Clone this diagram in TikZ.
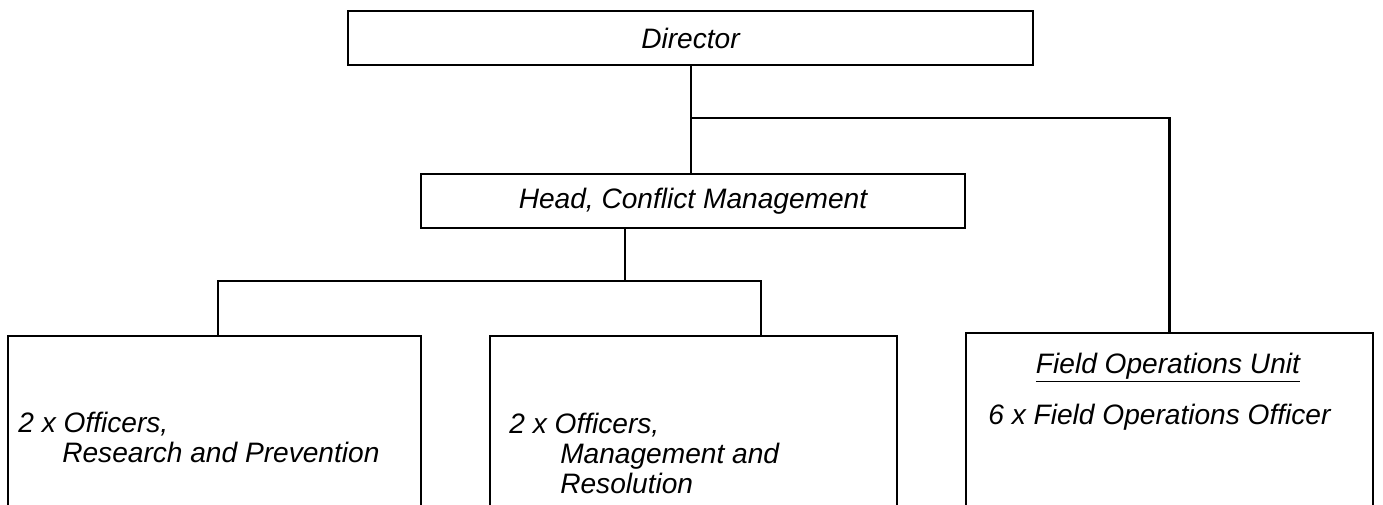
\documentclass[tikz,border=0pt]{standalone}
\usepackage{fontspec}
\setmainfont{Liberation Sans}
\begin{document}
\begin{tikzpicture}[x=0.02cm,y=-0.02cm]

\tikzset{unit/.style = {shape=rectangle,draw,line width=1.3pt,inner sep=0pt,font=\fontsize{16}{17}\selectfont\itshape}}
\tikzset{link/.style = {line width=1.3pt}}
\tikzset{txt/.style = {inner sep=0pt,align=left,font=\fontsize{16}{17}\selectfont\itshape}}
\clip (0,0) rectangle (1383,504);
%units
\node[unit, minimum width=13.70cm, minimum height=1.08cm] (dir) at (690.5,38) {Director};
\node[unit, minimum width=10.88cm, minimum height=1.08cm] (head) at (693,201) {Head, Conflict Management};
\node[unit, minimum width=8.26cm, minimum height=3.48cm] (rp) at (214.5,423) {};
\node[unit, minimum width=8.14cm, minimum height=3.48cm] (mr) at (693.5,423) {};
\node[unit, minimum width=8.14cm, minimum height=3.54cm] (field) at (1169.5,421.5) {};
%texts
\node[txt, anchor=base west] (rptext) at (18,462) {2 x Officers,\\\hspace*{25pt}Research and Prevention};
\node[txt, anchor=base west] (mrtext) at (509,493) {2 x Officers,\\\hspace*{29pt}Management and\\\hspace*{29pt}Resolution};
\node[txt, anchor=base] (fieldhead) at (1168,373) {\underline{Field Operations Unit}};
\node[txt, anchor=base west] (fieldtext) at (988,424) {6 x Field Operations Officer};
%edges
\coordinate (fork) at (691,118);
\coordinate (split) at (625,281);
\coordinate (lbend) at (218,281);
\coordinate (rbend) at (761,281);
\draw[link] (dir.south -| fork) -- (fork) -- (fork |- head.north);
\draw[link] (fork) -| (field.north);
\draw[link] (split |- head.south) -- (split);
\draw[link] (lbend |- rp.north) -- (lbend) -- (rbend) -- (rbend |- mr.north);

\end{tikzpicture}
\end{document}
